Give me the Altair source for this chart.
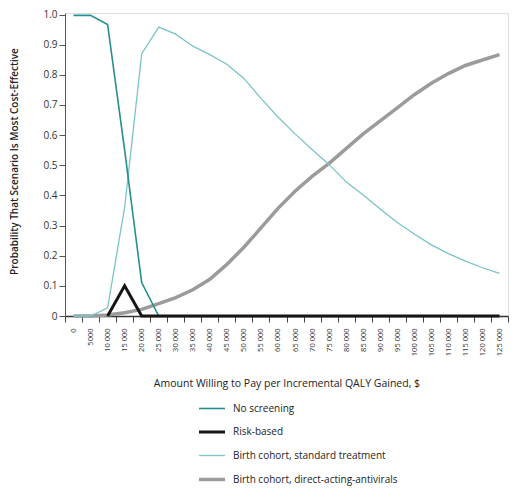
import altair as alt
import pandas as pd

wtp_labels = ["0", "5000", "10 000", "15 000", "20 000", "25 000", "30 000", "35 000",
              "40 000", "45 000", "50 000", "55 000", "60 000", "65 000", "70 000", "75 000",
              "80 000", "85 000", "90 000", "95 000", "100 000", "105 000", "110 000",
              "115 000", "120 000", "125 000"]

no_screening = [0.997, 0.997, 0.967, 0.55, 0.111, 0, 0, 0, 0, 0, 0, 0, 0, 0, 0, 0,
                0, 0, 0, 0, 0, 0, 0, 0, 0, 0]
risk_based = [None, None, 0, 0.1, 0, 0, 0, 0, 0, 0, 0, 0, 0, 0, 0, 0,
              0, 0, 0, 0, 0, 0, 0, 0, 0, 0]
birth_standard = [0, 0, 0.027, 0.36, 0.869, 0.958, 0.935, 0.895, 0.867, 0.835, 0.788,
                  0.722, 0.66, 0.604, 0.552, 0.502, 0.445, 0.401, 0.355, 0.31, 0.272,
                  0.236, 0.207, 0.182, 0.16, 0.141]
birth_daa = [0, 0, 0.003, 0.011, 0.022, 0.041, 0.061, 0.087, 0.122, 0.171, 0.228,
             0.292, 0.357, 0.414, 0.463, 0.506, 0.555, 0.604, 0.647, 0.69, 0.734,
             0.772, 0.804, 0.831, 0.849, 0.867]

series_names = ["No screening", "Risk-based", "Birth cohort, standard treatment",
                "Birth cohort, direct-acting-antivirals"]
series_colors = ["#23908f", "#151515", "#7cc3c6", "#9b9b9b"]
series_widths = [1.6, 3.0, 1.3, 3.5]
y_ticks = [0, 0.1, 0.2, 0.3, 0.4, 0.5, 0.6, 0.7, 0.8, 0.9, 1.0]

rows = []
for name, vals in zip(series_names, [no_screening, risk_based, birth_standard, birth_daa]):
    for lab, v in zip(wtp_labels, vals):
        if v is not None:
            rows.append({"wtp": lab, "series": name, "p": v})
df = pd.DataFrame(rows)

FONT = "Open Sans"

legend_kw = dict(
    title=None, orient="none", legendX=138.5, legendY=388, direction="vertical",
    symbolType="M-2,0H2", symbolSize=169, labelOffset=12.5, rowPadding=10,
    labelFont=FONT, labelFontSize=10, labelColor="#222", padding=0, labelLimit=0,
)

x_enc = alt.X(
    "wtp:O", sort=wtp_labels, bandPosition=0.5,
    scale=alt.Scale(type="band", paddingInner=0, paddingOuter=0),
    axis=alt.Axis(
        title="Amount Willing to Pay per Incremental QALY Gained, $",
        tickBand="extent", tickSize=6, tickColor="#444", domainColor="#333",
        domainWidth=1.4, labelAngle=270, labelAlign="right", labelBaseline="middle",
        labelFontSize=7.5, labelPadding=6, labelFont=FONT, labelColor="#333",
        labelOverlap=False, titleFont=FONT, titleFontSize=10.5, titleFontWeight="normal",
        titleColor="#222", titleY=67, titleBaseline="middle",
    ),
)
y_enc = alt.Y(
    "p:Q",
    scale=alt.Scale(domain=[0, 1.005], nice=False, zero=True),
    axis=alt.Axis(
        title="Probability That Scenario Is Most Cost-Effective",
        values=y_ticks, labelExpr="datum.value == 0 ? '0' : format(datum.value, '.1f')",
        tickSize=6, tickColor="#555", domainColor="#555", labelFont=FONT,
        labelFontSize=10, labelColor="#333", labelPadding=2, grid=False,
        titleFont=FONT, titleFontSize=10, titleFontWeight=600, titleColor="#222",
        titleX=-51, titleY=148, titleBaseline="middle", titleAngle=270,
    ),
)
color_enc = alt.Color("series:N", scale=alt.Scale(domain=series_names, range=series_colors),
                      legend=alt.Legend(**legend_kw))
width_enc = alt.StrokeWidth("series:N",
                            scale=alt.Scale(type="ordinal", domain=series_names, range=series_widths),
                            legend=alt.Legend(**legend_kw))

draw_order = [series_names[3], series_names[2], series_names[0], series_names[1]]
layers = []
for name in draw_order:
    layers.append(
        alt.Chart(df).transform_filter(alt.datum.series == name)
        .mark_line(strokeJoin="miter")
        .encode(x=x_enc, y=y_enc, color=color_enc, strokeWidth=width_enc)
    )

chart = alt.layer(*layers).properties(
    width=443, height=303,
    autosize=alt.AutoSizeParams(type="none"),
    padding={"left": 57, "top": 5, "right": 4, "bottom": 170},
).configure_view(stroke=None).configure(background="white")

chart.save("out.html", embed_options={"renderer": "svg", "actions": False})
